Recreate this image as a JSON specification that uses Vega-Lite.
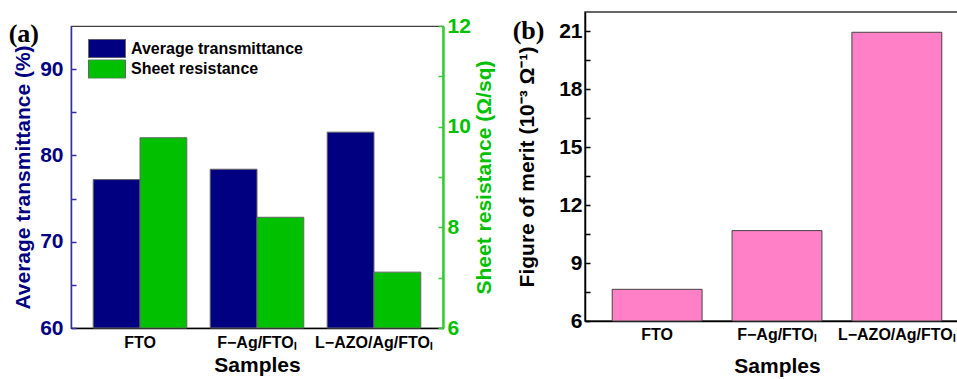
{
  "$schema": "https://vega.github.io/schema/vega-lite/v6.json",
  "padding": {"left": 8, "top": 11, "right": 0, "bottom": 0},
  "background": "white",
  "spacing": 16,
  "config": {
    "font": "Liberation Sans",
    "view": {"stroke": "#333333", "strokeWidth": 1.5},
    "axis": {"labelFont": "Liberation Sans", "titleFont": "Liberation Sans", "labelFontWeight": "bold", "titleFontWeight": "bold", "grid": false, "labelColor": "black", "titleColor": "black"}
  },
  "hconcat": [
    {
      "spacing": 1,
      "vconcat": [
        {
          "width": 372,
          "height": 1,
          "view": {"stroke": null},
          "data": {"values": [{}]},
          "mark": {"type": "rule", "opacity": 0},
          "encoding": {}
        },
        {
          "width": 372,
          "height": 302,
          "view": {"stroke": "#404040", "strokeWidth": 1.2},
          "title": {"text": "(a)", "anchor": "start", "frame": "bounds", "font": "Liberation Serif", "fontSize": 26, "fontWeight": "bold", "color": "black", "offset": -32, "dx": -4},
          "data": {"values": [
            {"sample": "FTO", "series": "Average transmittance", "value": 77.2},
            {"sample": "F−Ag/FTOₗ", "series": "Average transmittance", "value": 78.4},
            {"sample": "L−AZO/Ag/FTOₗ", "series": "Average transmittance", "value": 82.7},
            {"sample": "FTO", "series": "Sheet resistance", "value": 9.78},
            {"sample": "F−Ag/FTOₗ", "series": "Sheet resistance", "value": 8.2},
            {"sample": "L−AZO/Ag/FTOₗ", "series": "Sheet resistance", "value": 7.11}
          ]},
          "encoding": {
            "x": {"field": "sample", "type": "nominal", "sort": ["FTO", "F−Ag/FTOₗ", "L−AZO/Ag/FTOₗ"],
              "scale": {"paddingInner": 0.2, "paddingOuter": 0.19},
              "axis": {"title": "Samples", "labelAngle": 0, "labelFontSize": 16, "labelLimit": 0, "labelOverlap": false, "titleFontSize": 21, "tickSize": -5, "tickColor": "black", "tickWidth": 1.5, "labelPadding": 11, "domainColor": "black", "domainWidth": 1.5, "titlePadding": 4}},
            "xOffset": {"field": "series", "type": "nominal", "scale": {"domain": ["Average transmittance", "Sheet resistance"], "paddingInner": 0, "paddingOuter": 0}},
            "color": {"field": "series", "type": "nominal",
              "scale": {"domain": ["Average transmittance", "Sheet resistance"], "range": ["#000080", "#00C000"]},
              "legend": {"title": null, "orient": "none", "legendX": 12, "legendY": 22, "padding": 5, "symbolType": "M-1,-0.5H1V0.5H-1Z", "symbolSize": 1369, "clipHeight": 19, "rowPadding": 1.5, "symbolStrokeColor": "#666666", "symbolStrokeWidth": 1, "symbolOpacity": 1, "labelFontSize": 16, "labelLimit": 0, "labelFont": "Liberation Sans", "labelFontWeight": "bold", "labelColor": "black", "labelOffset": 5}}
          },
          "layer": [
            {
              "transform": [{"filter": "datum.series == 'Average transmittance'"}],
              "mark": {"type": "bar", "stroke": "#666666", "strokeWidth": 1},
              "encoding": {
                "y": {"field": "value", "type": "quantitative", "scale": {"domain": [60, 95], "zero": false, "nice": false},
                  "axis": {"orient": "left", "title": "Average transmittance (%)", "values": [60, 65, 70, 75, 80, 85, 90], "labelExpr": "datum.value % 10 == 0 ? datum.label : ''", "labelColor": "#000080", "titleColor": "#000080", "domainColor": "#3030A8", "tickColor": "#3030A8", "domainWidth": 1.5, "tickWidth": 1.5, "tickSize": -5, "labelPadding": 13, "labelFontSize": 21, "titleFontSize": 21, "titlePadding": 6}},
                "y2": {"datum": 60}
              }
            },
            {
              "transform": [{"filter": "datum.series == 'Sheet resistance'"}],
              "mark": {"type": "bar", "stroke": "#666666", "strokeWidth": 1},
              "encoding": {
                "y": {"field": "value", "type": "quantitative", "scale": {"domain": [6, 12], "zero": false, "nice": false},
                  "axis": {"orient": "right", "title": "Sheet resistance (Ω/sq)", "titleAngle": 270, "titleBaseline": "top", "values": [6, 7, 8, 9, 10, 11, 12], "labelExpr": "datum.value % 2 == 0 ? datum.label : ''", "labelColor": "#00C000", "titleColor": "#00C000", "domainColor": "#33CC33", "tickColor": "#33CC33", "domainWidth": 2.5, "tickWidth": 1.5, "tickSize": -5, "labelPadding": 9, "labelFontSize": 21, "titleFontSize": 21, "titlePadding": 3}},
                "y2": {"datum": 6}
              }
            }
          ],
          "resolve": {"scale": {"y": "independent"}}
        }
      ]
    },
    {
      "width": 384,
      "height": 309,
      "title": {"text": "(b)", "anchor": "start", "frame": "bounds", "font": "Liberation Serif", "fontSize": 26, "fontWeight": "bold", "color": "black", "offset": -32, "dx": -4},
      "data": {"values": [
        {"sample": "FTO", "fom": 7.64},
        {"sample": "F−Ag/FTOₗ", "fom": 10.68},
        {"sample": "L−AZO/Ag/FTOₗ", "fom": 20.95}
      ]},
      "mark": {"type": "bar", "fill": "#FF80C6", "stroke": "#444444", "strokeWidth": 1},
      "encoding": {
        "x": {"field": "sample", "type": "nominal", "sort": ["FTO", "F−Ag/FTOₗ", "L−AZO/Ag/FTOₗ"],
          "scale": {"paddingInner": 0.25, "paddingOuter": 0.227},
          "axis": {"title": "Samples", "labelAngle": 0, "labelFontSize": 16, "labelLimit": 0, "labelOverlap": false, "titleFontSize": 21, "tickSize": -5, "tickColor": "black", "tickWidth": 1.5, "labelPadding": 10, "domainColor": "black", "domainWidth": 1.5, "titlePadding": 13}},
        "y": {"field": "fom", "type": "quantitative", "scale": {"domain": [6, 22], "zero": false, "nice": false},
          "axis": {"title": "Figure of merit (10⁻³ Ω⁻¹)", "values": [6, 7.5, 9, 10.5, 12, 13.5, 15, 16.5, 18, 19.5, 21], "labelExpr": "datum.value % 3 == 0 ? datum.label : ''", "domainColor": "black", "tickColor": "black", "domainWidth": 1.5, "tickWidth": 1.5, "tickSize": -5, "labelPadding": 8, "labelFontSize": 21, "titleFontSize": 21, "titlePadding": 21}},
        "y2": {"datum": 6}
      }
    }
  ]
}
